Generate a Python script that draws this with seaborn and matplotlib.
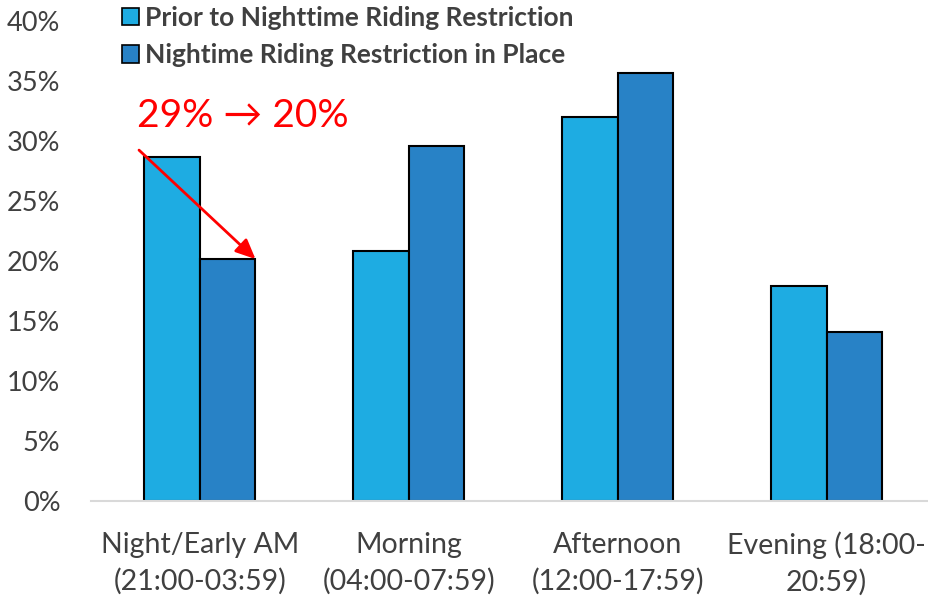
import matplotlib
matplotlib.use("Agg")
import matplotlib.pyplot as plt
import seaborn as sns
import pandas as pd
from matplotlib.patches import Patch

# Share of rides by time of day, before and after the nighttime restriction
categories = ["Night/Early AM\n(21:00-03:59)", "Morning\n(04:00-07:59)",
              "Afternoon\n(12:00-17:59)", "Evening (18:00-\n20:59)"]
series_names = ["Prior to Nighttime Riding Restriction",
                "Nightime Riding Restriction in Place"]
prior = [0.287, 0.208, 0.320, 0.179]
restricted = [0.202, 0.296, 0.357, 0.141]
y_ticks = [0.0, 0.05, 0.10, 0.15, 0.20, 0.25, 0.30, 0.35, 0.40]
y_tick_labels = ["0%", "5%", "10%", "15%", "20%", "25%", "30%", "35%", "40%"]
change_label = "29% \u2192 20%"

colors = ["#1eace2", "#2882c6"]

df = pd.DataFrame({
    "period": categories * 2,
    "series": [series_names[0]] * 4 + [series_names[1]] * 4,
    "share": prior + restricted,
})

sns.set_theme(style="white")
plt.rcParams["font.family"] = ["Lato", "DejaVu Sans"]

fig = plt.figure(figsize=(9.29, 5.96), dpi=100)
ax = fig.add_axes([91 / 929, 95 / 596, (929 - 91) / 929, 480 / 596])

sns.barplot(data=df, x="period", y="share", hue="series", order=categories,
            hue_order=series_names, palette=colors, saturation=1, width=0.53,
            gap=0, edgecolor="black", linewidth=1.5, ax=ax, legend=False)

ax.set_xlim(-0.52, 3.49)
ax.set_ylim(0, 0.40)
ax.set_yticks(y_ticks)
ax.set_yticklabels(y_tick_labels)
ax.set_xlabel("")
ax.set_ylabel("")
ax.tick_params(axis="x", length=0, labelsize=20.5, colors="#404040", pad=22)
ax.tick_params(axis="y", length=0, labelsize=19.5, colors="#404040", pad=22)
for lbl in ax.get_xticklabels():
    lbl.set_linespacing(1.45)
for side in ["top", "right", "left"]:
    ax.spines[side].set_visible(False)
ax.spines["bottom"].set_color("#d9d9d9")
ax.spines["bottom"].set_linewidth(1.5)

handles = [Patch(facecolor=c, edgecolor="black", linewidth=1.2) for c in colors]
leg = ax.legend(handles, series_names, loc="upper left",
                bbox_to_anchor=(111 / 929, 1.008), bbox_transform=fig.transFigure,
                frameon=False, fontsize=19, handlelength=0.65, handleheight=0.65,
                handletextpad=0.25, labelspacing=0.5, borderaxespad=0.0)
for t in leg.get_texts():
    t.set_color("#404040")
    t.set_fontweight("bold")

# Highlight the drop in night/early-morning share
ax.annotate("", xy=(0.277, restricted[0] - 0.002), xytext=(-0.30, 0.294),
            arrowprops=dict(arrowstyle="-|>,head_length=1.0,head_width=0.45",
                            color="red", lw=2))
ax.text(-0.30, 0.306, change_label, color="red", fontsize=28, ha="left",
        va="bottom")

fig.savefig("out.png", dpi=100)
